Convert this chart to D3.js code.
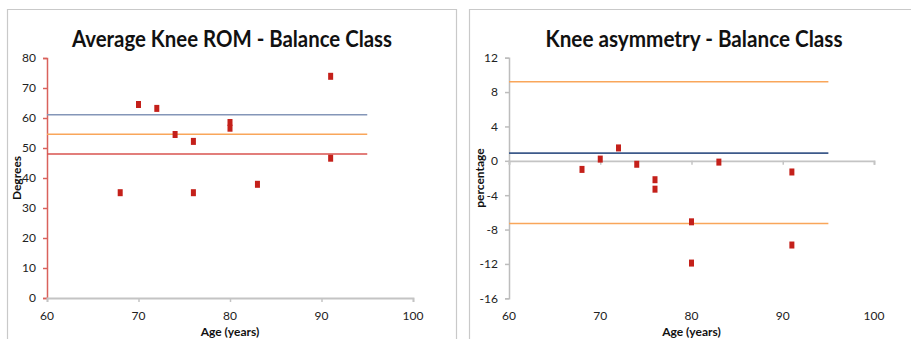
<!DOCTYPE html>
<html><head><meta charset="utf-8">
<script src="https://cdn.jsdelivr.net/npm/d3@7"></script>
<style>body{margin:0;background:#fff}svg{display:block}</style>
</head><body>
<svg id="c" width="911" height="339"></svg>
<script>
// Data
const ages = [68, 70, 72, 74, 76, 76, 80, 80, 83, 91, 91];
const romValues = [35.1, 64.5, 63.2, 54.5, 52.2, 35.1, 58.5, 56.6, 37.9, 73.9, 46.6];
const asymAges = [68, 70, 72, 74, 76, 76, 80, 80, 83, 91, 91];
const asymValues = [-1.0, 0.2, 1.5, -0.4, -2.2, -3.3, -7.1, -11.9, -0.15, -1.3, -9.8];
const romLines = [61.1, 54.6, 48.0];
const romLineColors = ["#8496B8", "#F9A65A", "#D9534F"];
const asymLines = [9.2, 0.9, -7.3];
const asymLineColors = ["#F9A65A", "#3D5A8A", "#F9A65A"];
const xTicks = [60, 70, 80, 90, 100];
const romTicks = [0, 10, 20, 30, 40, 50, 60, 70, 80];
const asymTicks = [-16, -12, -8, -4, 0, 4, 8, 12];
const lineRange = [60, 95];

const svg = d3.select("#c");
const font = "Lato,'Open Sans',Arial,sans-serif";
const markerColor = "#C4201A";

function chart(cfg) {
  const g = svg.append("g");
  g.append("path").attr("d", cfg.frame).attr("fill", "none").attr("stroke", "#c9c9c9").attr("stroke-width", 1.2);
  const x = d3.scaleLinear().domain([60, 100]).range(cfg.xr);
  const y = d3.scaleLinear().domain(cfg.yd).range(cfg.yr);
  g.append("text").attr("x", cfg.titleX).attr("y", 47).attr("text-anchor", "middle")
    .attr("font-family", "Lato, 'Open Sans', sans-serif").attr("font-weight", "bold")
    .attr("font-size", 23).attr("fill", "#111")
    .attr("textLength", cfg.titleLen).attr("lengthAdjust", "spacingAndGlyphs")
    .text(cfg.title);
  const ya = g.append("g").attr("transform", `translate(${cfg.xr[0]},0)`)
    .call(d3.axisLeft(y).tickValues(cfg.yTicks).tickSize(4).tickPadding(7).tickFormat(d => String(d)));
  ya.select(".domain").attr("stroke", cfg.yAxisColor).attr("stroke-width", 1.5);
  ya.selectAll(".tick line").attr("stroke", cfg.yAxisColor).attr("stroke-width", 1.5);
  ya.selectAll(".tick text").attr("font-family", font).attr("font-size", 12).attr("fill", "#222");
  const xa = g.append("g").attr("transform", `translate(0,${y(cfg.xCross)})`)
    .call(d3.axisBottom(x).tickValues(xTicks).tickSize(4).tickFormat(() => ""));
  xa.select(".domain").attr("stroke", "#c4c4c4").attr("stroke-width", 1.8);
  xa.selectAll(".tick line").attr("stroke", "#c4c4c4").attr("stroke-width", 1.5);
  g.selectAll(".xl").data(xTicks).enter().append("text")
    .attr("x", d => x(d)).attr("y", 320).attr("text-anchor", "middle")
    .attr("font-family", font).attr("font-size", 12).attr("fill", "#222").text(d => d);
  g.append("text").attr("x", x(cfg.xTitleAt)).attr("y", 335.5).attr("text-anchor", "middle")
    .attr("font-family", font).attr("font-weight", "bold").attr("font-size", 12).attr("fill", "#111")
    .text("Age (years)");
  g.append("text").attr("transform", `translate(${cfg.yTitleX},${cfg.yTitleY}) rotate(-90)`)
    .attr("text-anchor", "middle").attr("font-family", font).attr("font-weight", "bold")
    .attr("font-size", 12).attr("fill", "#111").text(cfg.yTitle);
  g.selectAll(".rl").data(cfg.lines).enter().append("line")
    .attr("x1", x(lineRange[0])).attr("x2", x(lineRange[1]))
    .attr("y1", d => y(d)).attr("y2", d => y(d))
    .attr("stroke", (d, i) => cfg.lineColors[i]).attr("stroke-width", 1.6);
  g.selectAll(".pt").data(cfg.vals).enter().append("rect")
    .attr("x", (d, i) => x(cfg.ages[i]) - 2.5).attr("y", d => y(d) - 3.5)
    .attr("width", 5).attr("height", 7).attr("fill", markerColor);
}

chart({
  frame: "M7.5,339 V9.5 H456.5 V339",
  xr: [47, 413], yd: [0, 80], yr: [298, 58],
  title: "Average Knee ROM - Balance Class", titleX: 232, titleLen: 320,
  yTicks: romTicks, yAxisColor: "#D9625C", xCross: 0,
  xTitleAt: 80, yTitle: "Degrees", yTitleX: 21, yTitleY: 178,
  lines: romLines, lineColors: romLineColors,
  vals: romValues, ages: ages
});
chart({
  frame: "M469.5,339 V9.5 H911",
  xr: [509, 874], yd: [-16, 12], yr: [298.3, 57.7],
  title: "Knee asymmetry - Balance Class", titleX: 694, titleLen: 297,
  yTicks: asymTicks, yAxisColor: "#bdbdbd", xCross: 0,
  xTitleAt: 80, yTitle: "percentage", yTitleX: 484, yTitleY: 178,
  lines: asymLines, lineColors: asymLineColors,
  vals: asymValues, ages: asymAges
});
</script>
</body></html>
